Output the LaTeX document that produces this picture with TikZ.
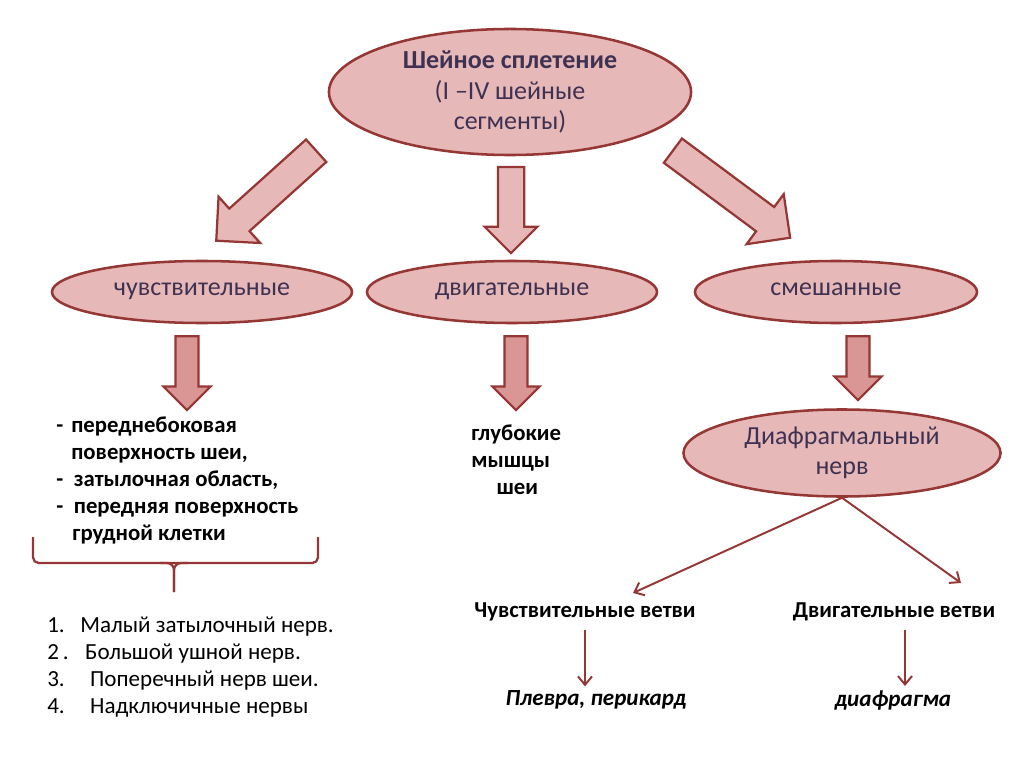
\documentclass[tikz,border=0pt]{standalone}
\usepackage{fontspec}
\setmainfont{Carlito}
\usepackage{xcolor}
\usepackage{tikz}
\definecolor{rimcolor}{RGB}{149, 55, 53}
\definecolor{pinkfill}{RGB}{230, 185, 184}
\definecolor{rosefill}{RGB}{217, 150, 148}
\definecolor{inkcolor}{RGB}{63, 49, 81}
\usetikzlibrary{shapes.geometric, shapes.arrows, arrows.meta, positioning, calc}

\begin{document}
\begin{tikzpicture}[
    x=0.025cm, y=-0.025cm,
    oval/.style={ellipse, draw=rimcolor, line width=1.8pt, fill=pinkfill, text=inkcolor, align=center, inner sep=0pt, font=\fontsize{18.5}{21.5}\selectfont},
    fatarrow/.style={single arrow, draw=rimcolor, line width=1.6pt, fill=pinkfill, inner xsep=0pt, anchor=tail},
    thinarrow/.style={draw=rimcolor, line width=1.4pt, -{Straight Barb[length=6pt, width=10pt]}},
    boldtext/.style={font=\bfseries\fontsize{16.2}{19.2}\selectfont, align=left, inner sep=0pt},
    listtext/.style={font=\fontsize{16.4}{19}\selectfont, align=left, inner sep=0pt}
]
    \useasboundingbox (0,0) rectangle (1024,767);

    % Plexus
    \node[oval, minimum width=9.05cm, minimum height=3.15cm] (plexus) at (510, 92) {{\bfseries Шейное сплетение}\\(I –IV шейные\\сегменты)};

    % Three kinds
    \node[oval, text height=1ex, text depth=0pt, minimum width=7.5cm, minimum height=1.55cm] (sens) at (202, 292) {чувствительные};
    \node[oval, text height=1ex, text depth=0pt, minimum width=7.25cm, minimum height=1.55cm] (motor) at (512, 292) {двигательные};
    \node[oval, text height=1ex, text depth=0pt, minimum width=7.05cm, minimum height=1.55cm] (mixed) at (836, 292) {смешанные};

    \node[fatarrow, minimum height=3.36cm, inner ysep=0.35cm, single arrow head extend=0.4cm, rotate=222] (arrsens) at (317, 150) {};
    \node[fatarrow, minimum height=2.15cm, inner ysep=0.3cm, single arrow head extend=0.33cm, rotate=-90] (arrmotor) at (511, 166) {};
    \node[fatarrow, minimum height=3.65cm, inner ysep=0.35cm, single arrow head extend=0.4cm, rotate=-36.6] (arrmixed) at (672, 150) {};

    \node[fatarrow, fill=rosefill, minimum height=1.85cm, inner ysep=0.26cm, single arrow head extend=0.3cm, rotate=-90] (downsens) at (187, 335) {};
    \node[fatarrow, fill=rosefill, minimum height=1.85cm, inner ysep=0.26cm, single arrow head extend=0.3cm, rotate=-90] (downmotor) at (516, 335) {};
    \node[fatarrow, fill=rosefill, minimum height=1.6cm, inner ysep=0.26cm, single arrow head extend=0.3cm, rotate=-90] (downmixed) at (858, 335) {};

    % Sensory
    \node[boldtext, anchor=north west] (skin) at (56, 417) {\makebox[10.7pt][l]{-}переднебоковая\\\hspace*{10.7pt}поверхность шеи,\\\makebox[12.5pt][l]{-}затылочная область,\\\makebox[12.5pt][l]{-}передняя поверхность\\\hspace*{11.5pt}грудной клетки};
    \draw[rimcolor, line width=1.6pt, rounded corners=4pt] (33, 537) -- (33, 563) -- (318, 563) -- (318, 537);
    \draw[rimcolor, line width=1.6pt, rounded corners=5pt] (160, 563) -| (174, 592);
    \draw[rimcolor, line width=1.6pt, rounded corners=5pt] (188, 563) -| (174, 592);
    \node[listtext, anchor=north west] (nerves) at (47, 617) {\makebox[23.5pt][l]{1.}Малый затылочный нерв.\\\makebox[27pt][l]{2\,.}Большой ушной нерв.\\\makebox[30.5pt][l]{3.}Поперечный нерв шеи.\\\makebox[30.5pt][l]{4.}Надключичные нервы};

    % Motor
    \node[boldtext, anchor=north west] (muscles) at (471, 425) {глубокие\\мышцы\\\hspace*{18pt}шеи};

    % Mixed
    \node[oval, minimum width=7.925cm, minimum height=2.175cm] (phren) at (842, 453) {Диафрагмальный\\нерв};
    \coordinate (sensend) at (633, 593);
    \coordinate (motend) at (961, 583);
    \draw[thinarrow] (phren.south) -- (sensend);
    \draw[thinarrow] (phren.south) -- (motend);

    \node[boldtext] (sensbr) at (585, 612) {Чувствительные ветви};
    \node[boldtext] (motbr) at (894, 612) {Двигательные ветви};
    \node[boldtext, font=\bfseries\itshape\fontsize{16.4}{19.2}\selectfont] (pleura) at (596, 700) {Плевра, перикард};
    \node[boldtext, font=\bfseries\itshape\fontsize{16.4}{19.2}\selectfont] (diaph) at (893, 700) {диафрагма};
    \coordinate (sensstart) at ([yshift=-0.22cm]sensbr.south);
    \coordinate (motstart) at ([xshift=0.275cm, yshift=-0.22cm]motbr.south);
    \draw[thinarrow, shorten >=0.1cm] (sensstart) -- (sensstart |- pleura.north);
    \draw[thinarrow, shorten >=0.1cm] (motstart) -- (motstart |- diaph.north);
\end{tikzpicture}
\end{document}
